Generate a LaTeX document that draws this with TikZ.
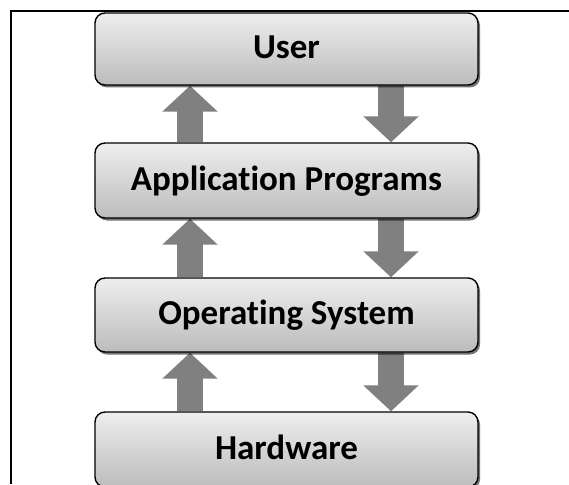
\documentclass[tikz,border=0pt]{standalone}
\usepackage{fontspec}
\setmainfont[Ligatures={NoCommon}]{Carlito}
\usetikzlibrary{arrows.meta,shadows}
\pgfdeclarelayer{background}
\pgfsetlayers{background,main}
\definecolor{boxtop}{RGB}{238,238,238}
\definecolor{boxbot}{RGB}{188,188,188}
\definecolor{arrowgray}{RGB}{128,128,128}
\tikzset{
  layerbox/.style={draw=black, line width=1.4pt, rounded corners=10pt,
    top color=boxtop, bottom color=boxbot,
    minimum width=383pt, inner sep=0pt,
    text height=23pt, text depth=4pt,
    font=\fontsize{35}{42}\selectfont\bfseries,
    drop shadow={shadow xshift=2pt, shadow yshift=-2.5pt, fill=black, opacity=0.55}},
  flowarrow/.style={draw=arrowgray, line width=26pt,
    -{Triangle[width=54pt,length=26pt]}},
  frameline/.style={draw=black, line width=1.5pt}
}
\begin{document}
\begin{tikzpicture}[x=1pt,y=1pt]
\useasboundingbox (0,0) rectangle (569,-484);
\draw[frameline] (11,-484) -- (11,-11) -- (569,-11);
\node[layerbox, minimum height=72pt] (user) at (286.5,-49) {User};
\node[layerbox, minimum height=75pt] (app) at (286.5,-180.5) {Application Programs};
\node[layerbox, minimum height=74pt] (os) at (286.5,-315) {Operating System};
\node[layerbox, minimum height=75pt] (hw) at (286.5,-449.5) {Hardware};
\coordinate (upx) at (190,0);
\coordinate (dnx) at (391,0);
\begin{pgfonlayer}{background}
\draw[flowarrow] (app.north -| upx) -- (user.south -| upx);
\draw[flowarrow] (user.south -| dnx) -- (app.north -| dnx);
\draw[flowarrow] (os.north -| upx) -- (app.south -| upx);
\draw[flowarrow] (app.south -| dnx) -- (os.north -| dnx);
\draw[flowarrow] (hw.north -| upx) -- (os.south -| upx);
\draw[flowarrow] (os.south -| dnx) -- (hw.north -| dnx);
\end{pgfonlayer}
\end{tikzpicture}
\end{document}
